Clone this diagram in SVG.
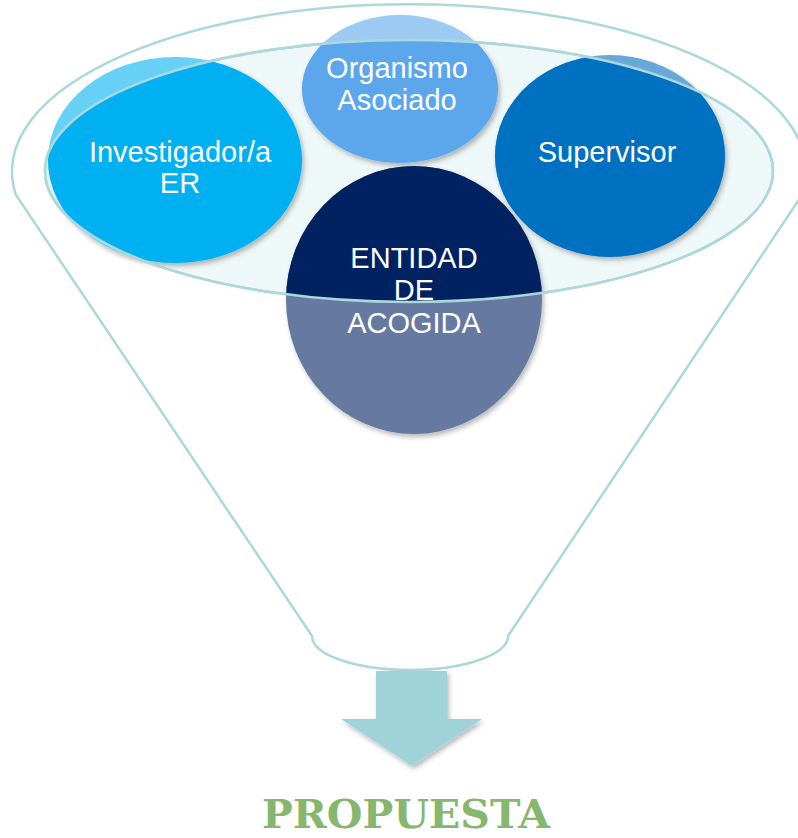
<svg xmlns="http://www.w3.org/2000/svg" width="798" height="838" viewBox="0 0 798 838">
<style>
.rim{fill:none;stroke:#acd8dc;stroke-width:2.5}
.inner{fill:#eff8f8;stroke:#acd8dc;stroke-width:2.5}
.innerline{fill:none;stroke:#acd8dc;stroke-width:2.5}
.lbl{font-family:"Liberation Sans",Arial,sans-serif;font-size:29px;fill:#ffffff;text-anchor:middle}
.title{font-family:"DejaVu Serif","Liberation Serif",serif;font-weight:bold;font-size:40px;fill:#87b66f}
</style>
<defs>
<clipPath id="inClip"><ellipse cx="409" cy="171" rx="364" ry="131"/></clipPath>
<filter id="sh" x="-20%" y="-20%" width="140%" height="140%">
<feDropShadow dx="2" dy="3" stdDeviation="2.5" flood-color="#000000" flood-opacity="0.28"/>
</filter>
</defs>
<rect width="798" height="838" fill="#ffffff"/>
<g id="funnel">
<path class="rim" d="M 16 195 A 397 167 0 1 1 802 195 L 508 636 A 98 34 0 0 1 312 636 Z"/>
<ellipse class="inner" cx="409" cy="171" rx="364" ry="131"/>
</g>
<g id="investigador" filter="url(#sh)">
<ellipse cx="175" cy="160" rx="127" ry="103" fill="#66d0f6"/>
<ellipse cx="175" cy="160" rx="127" ry="103" fill="#00b0f0" clip-path="url(#inClip)"/>
</g>
<g id="organismo" filter="url(#sh)">
<ellipse cx="400" cy="89" rx="98" ry="74" fill="#9dcaf3"/>
<ellipse cx="400" cy="89" rx="98" ry="74" fill="#5ba7ec" clip-path="url(#inClip)"/>
</g>
<g id="supervisor" filter="url(#sh)">
<ellipse cx="610" cy="156" rx="115" ry="101" fill="#66a9d9"/>
<ellipse cx="610" cy="156" rx="115" ry="101" fill="#0070c0" clip-path="url(#inClip)"/>
</g>
<g id="entidad" filter="url(#sh)">
<ellipse cx="414" cy="300" rx="128" ry="134" fill="#6679a0"/>
<ellipse cx="414" cy="300" rx="128" ry="134" fill="#002060" clip-path="url(#inClip)"/>
</g>
<g id="connectors">
<ellipse class="innerline" cx="409" cy="171" rx="364" ry="131"/>
<polygon points="376,671 447,671 447,719 482,719 412,766 341,719 376,719" fill="#9fd3d9" filter="url(#sh)"/>
</g>
<g id="labels">
<text class="lbl" x="180" y="162">Investigador/a</text>
<text class="lbl" x="180" y="193">ER</text>
<text class="lbl" x="397" y="78">Organismo</text>
<text class="lbl" x="397" y="110">Asociado</text>
<text class="lbl" x="607" y="162">Supervisor</text>
<text class="lbl" x="414" y="268">ENTIDAD</text>
<text class="lbl" x="414" y="300">DE</text>
<text class="lbl" x="414" y="333">ACOGIDA</text>
</g>
<g id="propuesta">
<text class="title" x="262" y="828" textLength="288" lengthAdjust="spacingAndGlyphs">PROPUESTA</text>
</g>
</svg>
